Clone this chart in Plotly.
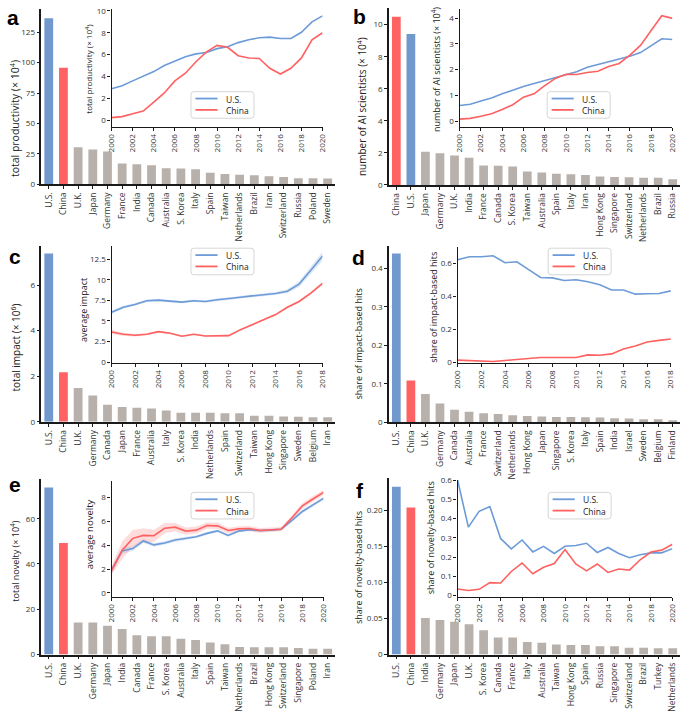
import plotly.graph_objects as go

W, H = 685, 714

# ---------------- data ----------------
years20 = [2000, 2001, 2002, 2003, 2004, 2005, 2006, 2007, 2008, 2009, 2010,
           2011, 2012, 2013, 2014, 2015, 2016, 2017, 2018, 2019, 2020]
years18 = [2000, 2001, 2002, 2003, 2004, 2005, 2006, 2007, 2008, 2009, 2010,
           2011, 2012, 2013, 2014, 2015, 2016, 2017, 2018]

# a: total productivity
a_countries = ["U.S.", "China", "U.K.", "Japan", "Germany", "France", "India", "Canada",
               "Australia", "S. Korea", "Italy", "Spain", "Taiwan", "Netherlands", "Brazil",
               "Iran", "Switzerland", "Russia", "Poland", "Sweden"]
a_values = [136.5, 95.8, 30.5, 28.6, 27.0, 17.0, 16.5, 15.7, 13.2, 13.0, 12.4, 9.4, 8.4,
            7.8, 7.3, 6.5, 5.9, 4.9, 4.9, 4.6]
a_us = [2.88, 3.15, 3.6, 4.0, 4.45, 5.0, 5.4, 5.8, 6.07, 6.2, 6.55, 6.73, 7.1, 7.36, 7.54,
        7.6, 7.48, 7.48, 8.05, 9.0, 9.55]
a_cn = [0.24, 0.33, 0.6, 0.84, 1.65, 2.5, 3.6, 4.3, 5.35, 6.25, 6.85, 6.67, 5.9, 5.7, 5.65,
        4.75, 4.23, 4.75, 5.7, 7.36, 8.0]

# b: number of AI scientists
b_countries = ["China", "U.S.", "Japan", "Germany", "U.K.", "India", "France", "Canada",
               "S. Korea", "Taiwan", "Australia", "Spain", "Italy", "Iran", "Hong Kong",
               "Singapore", "Switzerland", "Netherlands", "Brazil", "Russia"]
b_values = [10.49, 9.41, 2.07, 1.97, 1.84, 1.70, 1.21, 1.19, 1.15, 0.84, 0.78, 0.70, 0.66,
            0.61, 0.53, 0.49, 0.47, 0.45, 0.45, 0.35]
b_us = [0.61, 0.66, 0.78, 0.9, 1.06, 1.21, 1.35, 1.46, 1.58, 1.69, 1.82, 1.92, 2.09, 2.2,
        2.33, 2.41, 2.52, 2.66, 2.92, 3.2, 3.17]
b_cn = [0.08, 0.11, 0.19, 0.29, 0.45, 0.64, 0.93, 1.06, 1.38, 1.66, 1.82, 1.81, 1.89, 1.94,
        2.12, 2.24, 2.56, 2.94, 3.52, 4.09, 3.99]

# c: total impact
c_countries = ["U.S.", "China", "U.K.", "Germany", "Canada", "Japan", "France", "Australia",
               "Italy", "S. Korea", "India", "Netherlands", "Spain", "Switzerland", "Taiwan",
               "Hong Kong", "Singapore", "Sweden", "Belgium", "Iran"]
c_values = [7.38, 2.17, 1.48, 1.15, 0.75, 0.65, 0.62, 0.58, 0.49, 0.40, 0.40, 0.40, 0.37,
            0.37, 0.26, 0.26, 0.23, 0.22, 0.20, 0.20]
c_us = [6.05, 6.65, 7.0, 7.44, 7.52, 7.4, 7.28, 7.44, 7.36, 7.56, 7.68, 7.88, 8.04, 8.16,
        8.32, 8.6, 9.47, 11.15, 12.86]
c_cn = [3.66, 3.38, 3.26, 3.38, 3.7, 3.5, 3.14, 3.38, 3.18, 3.18, 3.22, 3.94, 4.58, 5.17,
        5.77, 6.65, 7.36, 8.36, 9.55]
c_us_err = [0.2, 0.18, 0.17, 0.16, 0.15, 0.15, 0.15, 0.15, 0.15, 0.15, 0.15, 0.16, 0.17,
            0.18, 0.2, 0.25, 0.35, 0.45, 0.55]
c_cn_err = [0.25, 0.2, 0.15, 0.12, 0.12, 0.1, 0.1, 0.1, 0.1, 0.1, 0.1, 0.1, 0.1, 0.1, 0.1,
            0.12, 0.14, 0.16, 0.2]

# d: share of impact-based hits
d_countries = ["U.S.", "China", "U.K.", "Germany", "Canada", "Australia", "France",
               "Switzerland", "Netherlands", "Hong Kong", "Japan", "Singapore", "S. Korea",
               "Italy", "Spain", "India", "Israel", "Sweden", "Belgium", "Finland"]
d_values = [0.439, 0.1085, 0.0735, 0.0487, 0.0325, 0.0274, 0.023, 0.0214, 0.018, 0.0162,
            0.0145, 0.0137, 0.0137, 0.0128, 0.012, 0.0103, 0.0094, 0.0077, 0.0077, 0.005]
d_us = [0.624, 0.642, 0.642, 0.648, 0.606, 0.612, 0.564, 0.516, 0.514, 0.498, 0.502, 0.49,
        0.472, 0.44, 0.44, 0.415, 0.417, 0.419, 0.435]
d_cn = [0.014, 0.010, 0.006, 0.006, 0.012, 0.018, 0.026, 0.03, 0.03, 0.032, 0.03, 0.046,
        0.044, 0.052, 0.082, 0.10, 0.124, 0.134, 0.142]

# e: total novelty
e_countries = ["U.S.", "China", "U.K.", "Germany", "Japan", "India", "Canada", "France",
               "S. Korea", "Australia", "Italy", "Spain", "Taiwan", "Netherlands", "Brazil",
               "Hong Kong", "Switzerland", "Singapore", "Poland", "Iran"]
e_values = [73.8, 49.3, 14.2, 14.2, 12.75, 11.3, 8.55, 8.1, 8.1, 6.96, 6.4, 5.36, 4.5,
            3.33, 3.19, 3.19, 3.19, 2.9, 2.6, 2.6]
e_us = [1.88, 3.53, 3.72, 4.36, 4.03, 4.19, 4.44, 4.58, 4.72, 5.0, 5.21, 4.83, 5.19, 5.3,
        5.24, 5.27, 5.35, 6.07, 6.84, 7.39, 7.94]
e_cn = [1.88, 3.59, 4.58, 4.83, 4.8, 5.43, 5.52, 5.19, 5.27, 5.66, 5.63, 5.24, 5.38, 5.41,
        5.24, 5.32, 5.35, 6.29, 7.31, 7.89, 8.44]
e_us_err = [0.3, 0.25, 0.2, 0.18, 0.16, 0.15, 0.14, 0.13, 0.12, 0.12, 0.12, 0.12, 0.12,
            0.12, 0.12, 0.12, 0.12, 0.14, 0.15, 0.15, 0.15]
e_cn_err = [0.35, 0.75, 0.7, 0.6, 0.5, 0.45, 0.35, 0.3, 0.3, 0.28, 0.26, 0.24, 0.22, 0.2,
            0.2, 0.18, 0.18, 0.2, 0.22, 0.22, 0.22]

# f: share of novelty-based hits
f_countries = ["U.S.", "China", "India", "Germany", "Japan", "U.K.", "S. Korea", "Canada",
               "France", "Italy", "Australia", "Taiwan", "Hong Kong", "Spain", "Russia",
               "Singapore", "Switzerland", "Brazil", "Turkey", "Netherlands"]
f_values = [0.2328, 0.204, 0.0506, 0.0478, 0.0456, 0.0419, 0.0337, 0.0237, 0.0237, 0.0173,
            0.0164, 0.0141, 0.0132, 0.0132, 0.0114, 0.0114, 0.0096, 0.0096, 0.0087, 0.0087]
f_us = [0.60, 0.356, 0.438, 0.463, 0.297, 0.243, 0.289, 0.227, 0.256, 0.219, 0.256, 0.26,
        0.272, 0.224, 0.25, 0.219, 0.197, 0.212, 0.222, 0.222, 0.244]
f_cn = [0.034, 0.026, 0.032, 0.067, 0.065, 0.125, 0.169, 0.113, 0.147, 0.166, 0.239, 0.164,
        0.128, 0.164, 0.12, 0.138, 0.132, 0.186, 0.226, 0.236, 0.267]

legend_labels = ["U.S.", "China"]

# ---------------- styling ----------------
BLUE_BAR = "#7299cd"
RED_BAR = "#ff6262"
GRAY_BAR = "#b8b0ab"
BLUE_LINE = "#6c9bd8"
RED_LINE = "#ff6161"
BLUE_BAND = "rgba(108,155,216,0.22)"
RED_BAND = "rgba(255,97,97,0.22)"
FONT = "Open Sans"
AXC = "#1a1a1a"
TXT = "#333333"


def fx(p):
    return p / W


def fy(p):
    return 1 - p / H


panels = [
    dict(letter="a", countries=a_countries, values=a_values, years=years20, us=a_us, cn=a_cn,
         bar_x=(36, 334.4), bar_y=(181, 3), bar_range=[0, 144.2],
         bar_ticks=[0, 25, 50, 75, 100, 125], bar_ticktext=["0", "25", "50", "75", "100", "125"],
         bar_title="total productivity (× 10<sup>4</sup>)", bar_title_pos=(8, 114), bt_size=10.5,
         in_x=(107.3, 321.7), in_y=(122.7, 3), in_range=[-0.6, 10.18],
         in_ticks=[0, 2, 4, 6, 8, 10], in_ticktext=["0", "2", "4", "6", "8", "10"],
         in_title="total productivity (× 10<sup>4</sup>)", in_title_pos=(83, 64), it_size=8,
         legend_pos=(188, 87), letter_pos=(7, 12)),
    dict(letter="b", countries=b_countries, values=b_values, years=years20, us=b_us, cn=b_cn,
         bar_x=(389.3, 685), bar_y=(181.7, 1.7), bar_range=[0, 11.06],
         bar_ticks=[0, 2, 4, 6, 8, 10], bar_ticktext=["0", "2", "4", "6", "8", "10"],
         bar_title="number of AI scientists (× 10<sup>4</sup>)", bar_title_pos=(362.5, 102), bt_size=10,
         in_x=(461, 677.3), in_y=(122.7, 3.3), in_range=[-0.218, 4.343],
         in_ticks=[0, 1, 2, 3, 4], in_ticktext=["0", "1", "2", "3", "4"],
         in_title="number of AI scientists (× 10<sup>4</sup>)", in_title_pos=(437, 64), it_size=9,
         legend_pos=(550, 87), letter_pos=(359, 11)),
    dict(letter="c", countries=c_countries, values=c_values, years=years18, us=c_us, cn=c_cn,
         us_err=c_us_err, cn_err=c_cn_err,
         bar_x=(36, 334.4), bar_y=(422.3, 244), bar_range=[0, 7.70],
         bar_ticks=[0, 2, 4, 6], bar_ticktext=["0", "2", "4", "6"],
         bar_title="total impact (× 10<sup>6</sup>)", bar_title_pos=(10, 347), bt_size=10,
         in_x=(107.3, 321.7), in_y=(362.3, 244), in_range=[-0.07, 14.06],
         in_ticks=[0, 2.5, 5, 7.5, 10, 12.5], in_ticktext=["0", "2.5", "5", "7.5", "10", "12.5"],
         in_title="average impact", in_title_pos=(79, 309), it_size=9,
         legend_pos=(188, 246), letter_pos=(9, 254)),
    dict(letter="d", countries=d_countries, values=d_values, years=years18, us=d_us, cn=d_cn,
         bar_x=(389.3, 685), bar_y=(422.7, 244), bar_range=[0, 0.458],
         bar_ticks=[0, 0.1, 0.2, 0.3, 0.4], bar_ticktext=["0", "0.1", "0.2", "0.3", "0.4"],
         bar_title="share of impact-based hits", bar_title_pos=(358.5, 343), bt_size=9,
         in_x=(459, 675.7), in_y=(362.7, 245), in_range=[-0.004, 0.70],
         in_ticks=[0, 0.2, 0.4, 0.6], in_ticktext=["0", "0.2", "0.4", "0.6"],
         in_title="share of impact-based hits", in_title_pos=(434.5, 306), it_size=9,
         legend_pos=(551, 246), letter_pos=(358, 255)),
    dict(letter="e", countries=e_countries, values=e_values, years=years20, us=e_us, cn=e_cn,
         us_err=e_us_err, cn_err=e_cn_err,
         bar_x=(36, 334.4), bar_y=(658.7, 480.7), bar_range=[0, 77.4],
         bar_ticks=[0, 20, 40, 60], bar_ticktext=["0", "20", "40", "60"],
         bar_title="total novelty (× 10<sup>4</sup>)", bar_title_pos=(9.5, 564), bt_size=9,
         in_x=(107.3, 322.7), in_y=(600, 482.7), in_range=[-0.33, 9.38],
         in_ticks=[0, 2, 4, 6, 8], in_ticktext=["0", "2", "4", "6", "8"],
         in_title="average novelty", in_title_pos=(85, 537), it_size=9.5,
         legend_pos=(188, 494), letter_pos=(9, 486)),
    dict(letter="f", countries=f_countries, values=f_values, years=years20, us=f_us, cn=f_cn,
         bar_x=(389.3, 685), bar_y=(658.7, 479.3), bar_range=[0, 0.245],
         bar_ticks=[0, 0.05, 0.10, 0.15, 0.20], bar_ticktext=["0", "0.05", "0.10", "0.15", "0.20"],
         bar_title="share of novelty-based hits", bar_title_pos=(357.5, 570), bt_size=9,
         in_x=(459, 677.3), in_y=(600, 481), in_range=[-0.0067, 0.6036],
         in_ticks=[0, 0.1, 0.2, 0.3, 0.4, 0.5, 0.6],
         in_ticktext=["0", "0.1", "0.2", "0.3", "0.4", "0.5", "0.6"],
         in_title="share of novelty-based hits", in_title_pos=(431.5, 540), it_size=9,
         legend_pos=(551, 494), letter_pos=(360, 492)),
]

fig = go.Figure()
layout = dict(
    width=W, height=H, margin=dict(l=0, r=0, t=0, b=0),
    paper_bgcolor="white", plot_bgcolor="rgba(0,0,0,0)",
    font=dict(family=FONT, size=8, color=TXT),
    showlegend=False, bargap=0.4,
)
annotations = []
shapes = []


def rounded_box(x0, y0, x1, y1, r=3):
    pts = [
        f"M{fx(x0 + r)},{fy(y0)}", f"L{fx(x1 - r)},{fy(y0)}", f"Q{fx(x1)},{fy(y0)} {fx(x1)},{fy(y0 + r)}",
        f"L{fx(x1)},{fy(y1 - r)}", f"Q{fx(x1)},{fy(y1)} {fx(x1 - r)},{fy(y1)}",
        f"L{fx(x0 + r)},{fy(y1)}", f"Q{fx(x0)},{fy(y1)} {fx(x0)},{fy(y1 - r)}",
        f"L{fx(x0)},{fy(y0 + r)}", f"Q{fx(x0)},{fy(y0)} {fx(x0 + r)},{fy(y0)}", "Z",
    ]
    return dict(type="path", path=" ".join(pts), xref="paper", yref="paper",
                line=dict(color="#d6d6d6", width=1), fillcolor="rgba(255,255,255,0.92)", layer="above")


for i, p in enumerate(panels):
    bx = 2 * i + 1
    ix = 2 * i + 2
    bxa, bya = f"x{bx}", f"y{bx}"
    ixa, iya = f"x{ix}", f"y{ix}"

    colors = []
    for c in p["countries"]:
        if c == "U.S.":
            colors.append(BLUE_BAR)
        elif c == "China":
            colors.append(RED_BAR)
        else:
            colors.append(GRAY_BAR)
    fig.add_trace(go.Bar(x=p["countries"], y=p["values"], marker=dict(color=colors, line=dict(width=0)),
                         width=0.6, xaxis=bxa, yaxis=bya, hoverinfo="x+y"))

    if "us_err" in p:
        yrs = p["years"]
        for vals, err, col in ((p["us"], p["us_err"], BLUE_BAND), (p["cn"], p["cn_err"], RED_BAND)):
            upper = [v + e for v, e in zip(vals, err)]
            lower = [v - e for v, e in zip(vals, err)]
            fig.add_trace(go.Scatter(x=yrs + yrs[::-1], y=upper + lower[::-1], fill="toself",
                                     fillcolor=col, line=dict(width=0), mode="lines",
                                     xaxis=ixa, yaxis=iya, hoverinfo="skip"))

    fig.add_trace(go.Scatter(x=p["years"], y=p["us"], mode="lines", name=legend_labels[0],
                             line=dict(color=BLUE_LINE, width=1.6), xaxis=ixa, yaxis=iya))
    fig.add_trace(go.Scatter(x=p["years"], y=p["cn"], mode="lines", name=legend_labels[1],
                             line=dict(color=RED_LINE, width=1.6), xaxis=ixa, yaxis=iya))

    kb = "" if bx == 1 else str(bx)
    ki = str(ix)
    tickfont = dict(size=8, color=TXT, family=FONT)
    layout[f"xaxis{kb}"] = dict(
        domain=[fx(p["bar_x"][0]), fx(p["bar_x"][1])], anchor=bya, type="category",
        range=[-0.5, 19.5], showline=True, linecolor=AXC, linewidth=1.6,
        ticks="outside", ticklen=3, tickwidth=1, tickcolor=AXC, tickangle=-90,
        tickfont=dict(size=8.5, color=TXT, family=FONT), showgrid=False, zeroline=False)
    layout[f"yaxis{kb}"] = dict(
        domain=[fy(p["bar_y"][0]), fy(p["bar_y"][1])], anchor=bxa, range=p["bar_range"],
        showline=True, linecolor=AXC, linewidth=1.6, ticks="outside", ticklen=3, tickwidth=1,
        tickcolor=AXC, tickvals=p["bar_ticks"], ticktext=p["bar_ticktext"],
        tickfont=tickfont, showgrid=False, zeroline=False)
    yrs = p["years"]
    layout[f"xaxis{ki}"] = dict(
        domain=[fx(p["in_x"][0]), fx(p["in_x"][1])], anchor=iya, range=[yrs[0], yrs[-1]],
        showline=True, linecolor=AXC, linewidth=1.3, ticks="outside", ticklen=3, tickwidth=1,
        tickcolor=AXC, tickvals=yrs[::2], ticktext=[str(y) for y in yrs[::2]], tickangle=-90,
        tickfont=tickfont, showgrid=False, zeroline=False)
    layout[f"yaxis{ki}"] = dict(
        domain=[fy(p["in_y"][0]), fy(p["in_y"][1])], anchor=ixa, range=p["in_range"],
        showline=True, linecolor=AXC, linewidth=1.3, ticks="outside", ticklen=3, tickwidth=1,
        tickcolor=AXC, tickvals=p["in_ticks"], ticktext=p["in_ticktext"],
        tickfont=tickfont, showgrid=False, zeroline=False)

    # legend box (drawn)
    lx, ly = p["legend_pos"]
    shapes.append(rounded_box(lx, ly, lx + 64, ly + 27))
    for k, col in enumerate((BLUE_LINE, RED_LINE)):
        yy = ly + 7 + 11.5 * k
        shapes.append(dict(type="line", xref="paper", yref="paper", x0=fx(lx + 4.5), x1=fx(lx + 27),
                           y0=fy(yy), y1=fy(yy), line=dict(color=col, width=1.8), layer="above"))
        annotations.append(dict(text=legend_labels[k], x=fx(lx + 33.5), y=fy(yy + 0.5), xref="paper",
                                yref="paper", showarrow=False, xanchor="left", yanchor="middle",
                                font=dict(size=8.5, color="#222", family=FONT)))

    tx, ty = p["bar_title_pos"]
    annotations.append(dict(text=p["bar_title"], x=fx(tx), y=fy(ty), xref="paper", yref="paper",
                            textangle=-90, showarrow=False, xanchor="center", yanchor="middle",
                            font=dict(size=p["bt_size"], color="#222", family=FONT)))
    tx, ty = p["in_title_pos"]
    annotations.append(dict(text=p["in_title"], x=fx(tx), y=fy(ty), xref="paper", yref="paper",
                            textangle=-90, showarrow=False, xanchor="center", yanchor="middle",
                            font=dict(size=p["it_size"], color="#222", family=FONT)))
    lx, ly = p["letter_pos"]
    annotations.append(dict(text="<b>" + p["letter"] + "</b>", x=fx(lx), y=fy(ly), xref="paper",
                            yref="paper", showarrow=False, xanchor="center", yanchor="middle",
                            font=dict(size=21, color="black", family="Liberation Sans")))

layout["annotations"] = annotations
layout["shapes"] = shapes
fig.update_layout(**layout)
fig.write_html("out.html", config={"displayModeBar": False},
               post_script="document.body.style.margin='0';document.body.style.overflow='hidden';")
